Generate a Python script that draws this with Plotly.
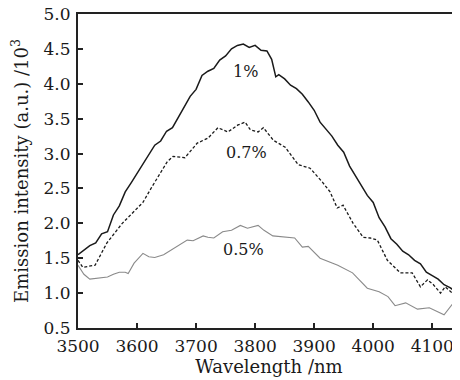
import plotly.graph_objects as go

# 1% series
wl_1 = [3500, 3510, 3520, 3530, 3540, 3550, 3560, 3570, 3580, 3590, 3600, 3610, 3620, 3630, 3640,
        3650, 3660, 3670, 3680, 3690, 3700, 3710, 3720, 3730, 3740, 3750, 3760, 3770, 3780, 3790,
        3800, 3810, 3820, 3828, 3835, 3840, 3850, 3860, 3870, 3880, 3890, 3900, 3910, 3920, 3930,
        3940, 3950, 3960, 3970, 3980, 3990, 4000, 4010, 4020, 4030, 4040, 4050, 4060, 4070, 4080,
        4090, 4100, 4110, 4120, 4130, 4140, 4147]
val_1 = [1.55, 1.62, 1.68, 1.72, 1.85, 1.88, 2.12, 2.25, 2.45, 2.58, 2.72, 2.85, 2.98, 3.12, 3.18,
         3.32, 3.37, 3.52, 3.65, 3.82, 3.92, 4.12, 4.18, 4.22, 4.34, 4.40, 4.50, 4.55, 4.57, 4.52,
         4.55, 4.48, 4.47, 4.35, 4.10, 4.13, 4.07, 3.98, 3.93, 3.85, 3.74, 3.62, 3.45, 3.35, 3.25,
         3.12, 3.02, 2.82, 2.68, 2.55, 2.40, 2.30, 2.08, 1.95, 1.78, 1.70, 1.60, 1.55, 1.47, 1.42,
         1.30, 1.25, 1.20, 1.12, 1.08, 1.02, 1.10]

# 0.7% series
wl_07 = [3500, 3508, 3529, 3549, 3575, 3593, 3610, 3625, 3639, 3651, 3661, 3681, 3702, 3720, 3737,
         3754, 3771, 3783, 3792, 3805, 3814, 3831, 3851, 3873, 3893, 3914, 3927, 3939, 3949, 3966,
         3983, 3995, 4007, 4024, 4046, 4066, 4080, 4092, 4102, 4114, 4122, 4134, 4147]
val_07 = [1.47, 1.37, 1.40, 1.72, 2.00, 2.16, 2.30, 2.52, 2.72, 2.88, 2.96, 2.94, 3.15, 3.22, 3.37,
          3.31, 3.41, 3.45, 3.34, 3.31, 3.37, 3.19, 3.09, 2.84, 2.79, 2.59, 2.45, 2.22, 2.26, 2.00,
          1.80, 1.79, 1.76, 1.47, 1.29, 1.29, 1.09, 1.19, 1.12, 1.00, 1.09, 1.00, 1.05]

# 0.5% series
wl_05 = [3500, 3503, 3510, 3520, 3530, 3540, 3550, 3560, 3570, 3580, 3585, 3595, 3610, 3620, 3630,
         3645, 3665, 3685, 3695, 3712, 3720, 3730, 3745, 3760, 3775, 3787, 3805, 3815, 3830, 3850,
         3867, 3880, 3890, 3910, 3940, 3965, 3990, 4010, 4025, 4037, 4055, 4075, 4095, 4120, 4135,
         4147]
val_05 = [1.40, 1.36, 1.27, 1.20, 1.21, 1.22, 1.23, 1.27, 1.30, 1.30, 1.28, 1.43, 1.57, 1.52, 1.51,
          1.55, 1.66, 1.76, 1.75, 1.82, 1.80, 1.79, 1.88, 1.90, 1.97, 1.93, 1.97, 1.90, 1.82, 1.80,
          1.79, 1.66, 1.67, 1.50, 1.40, 1.29, 1.07, 1.02, 0.95, 0.82, 0.86, 0.77, 0.79, 0.69, 0.85,
          0.93]

labels = ["1%", "0.7%", "0.5%"]
label_x = [3783, 3786, 3781]
label_y = [4.17, 3.02, 1.62]

x_ticks = [3500, 3600, 3700, 3800, 3900, 4000, 4100]
y_ticks = [0.5, 1.0, 1.5, 2.0, 2.5, 3.0, 3.5, 4.0, 4.5, 5.0]

FONT = "DejaVu Serif"
INK = "#1a1a1a"

fig = go.Figure()
fig.add_trace(go.Scatter(x=wl_1, y=val_1, mode="lines",
                         line=dict(color=INK, width=1.5), showlegend=False))
fig.add_trace(go.Scatter(x=wl_07, y=val_07, mode="lines",
                         line=dict(color=INK, width=1.3, dash="3px,2px"), showlegend=False))
fig.add_trace(go.Scatter(x=wl_05, y=val_05, mode="lines",
                         line=dict(color="#8a8a8a", width=1.1), showlegend=False))

for t, xx, yy in zip(labels, label_x, label_y):
    fig.add_annotation(x=xx, y=yy, text=t, showarrow=False,
                       font=dict(family=FONT, size=16, color=INK))

# page body adds an 8px offset, so the figure is 8px smaller on each side
fig.update_layout(
    width=452, height=372,
    margin=dict(l=70, r=0, t=6, b=44 + 8, autoexpand=False),
    paper_bgcolor="white", plot_bgcolor="white",
    font=dict(family=FONT, size=17, color=INK),
    xaxis=dict(range=[3500, 4147], tickvals=x_ticks, ticktext=[str(v) for v in x_ticks],
               showline=True, linecolor="#222", linewidth=2, mirror=True,
               ticks="inside", ticklen=5, tickwidth=1.5, tickcolor="#222",
               ticklabelstandoff=2, automargin=False, ticklabeloverflow="allow",
               showgrid=False, zeroline=False,
               tickfont=dict(size=17),
               title=dict(text="Wavelength /nm", standoff=2, font=dict(size=18))),
    yaxis=dict(range=[0.5, 5.0], tickvals=y_ticks, ticktext=[f"{v:.1f}" for v in y_ticks],
               showline=True, linecolor="#222", linewidth=2,
               ticks="inside", ticklen=5, tickwidth=1.5, tickcolor="#222",
               ticklabelstandoff=2, automargin=False, ticklabeloverflow="allow",
               showgrid=False, zeroline=False,
               tickfont=dict(size=17),
               title=dict(text="Emission intensity (a.u.) /10<sup>3</sup>", standoff=15,
                          font=dict(size=18))),
)

fig.write_html("out.html")
